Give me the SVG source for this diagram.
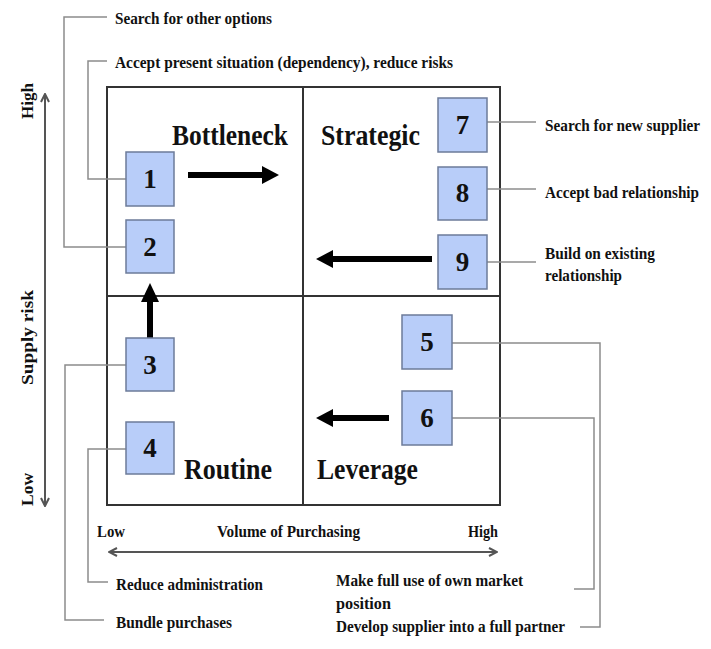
<svg xmlns="http://www.w3.org/2000/svg" width="711" height="649" viewBox="0 0 711 649">
<style>
text{font-family:"Liberation Serif","Times New Roman",serif;font-weight:bold;fill:#111}
.lbl{font-size:16px}
.quad{font-size:30px}
.num{font-size:27px;text-anchor:middle}
.box{fill:#b8cdf9;stroke:#6c7b99;stroke-width:1.5}
.lead{fill:none;stroke:#8c8c8c;stroke-width:1.5}
.thick{fill:none;stroke:#000;stroke-width:6}
.axis{fill:none;stroke:#555;stroke-width:2}
.grid{fill:none;stroke:#333;stroke-width:2}
</style>
<defs>
<marker id="ah" viewBox="0 0 10 10" refX="9" refY="5" markerWidth="10" markerHeight="10" markerUnits="userSpaceOnUse" orient="auto-start-reverse">
<path d="M1,1 L9,5 L1,9" fill="none" stroke="#555" stroke-width="2"/>
</marker>
</defs>
<rect width="711" height="649" fill="#fff"/>
<g id="matrix">
<rect x="107" y="87" width="393" height="418" class="grid"/>
<line x1="303" y1="87" x2="303" y2="505" class="grid"/>
<line x1="107" y1="296" x2="500" y2="296" class="grid"/>
<text class="quad" x="172" y="145" textLength="116" lengthAdjust="spacingAndGlyphs">Bottleneck</text>
<text class="quad" x="321" y="145" textLength="99" lengthAdjust="spacingAndGlyphs">Strategic</text>
<text class="quad" x="184" y="479" textLength="88" lengthAdjust="spacingAndGlyphs">Routine</text>
<text class="quad" x="317" y="479" textLength="101" lengthAdjust="spacingAndGlyphs">Leverage</text>
</g>
<g id="axes">
<line x1="45" y1="94" x2="45" y2="506" class="axis" marker-start="url(#ah)" marker-end="url(#ah)"/>
<line x1="109" y1="552" x2="497" y2="552" class="axis" marker-start="url(#ah)" marker-end="url(#ah)"/>
<text class="lbl" transform="translate(33,119) rotate(-90)" textLength="36" lengthAdjust="spacingAndGlyphs">High</text>
<text class="lbl" transform="translate(33,385) rotate(-90)" textLength="95" lengthAdjust="spacingAndGlyphs">Supply risk</text>
<text class="lbl" transform="translate(33,506) rotate(-90)" textLength="33" lengthAdjust="spacingAndGlyphs">Low</text>
<text class="lbl" x="97" y="537" textLength="28" lengthAdjust="spacingAndGlyphs">Low</text>
<text class="lbl" x="217" y="537" textLength="143" lengthAdjust="spacingAndGlyphs">Volume of Purchasing</text>
<text class="lbl" x="468" y="537" textLength="30" lengthAdjust="spacingAndGlyphs">High</text>
</g>
<g id="connectors">
<path class="lead" d="M126,179 H88 V61 H107"/>
<path class="lead" d="M126,247 H64 V17 H107"/>
<path class="lead" d="M126,365 H65 V620 H104"/>
<path class="lead" d="M126,449 H88 V582 H108"/>
<path class="lead" d="M487,122 H536"/>
<path class="lead" d="M487,189 H536"/>
<path class="lead" d="M487,262 H536"/>
<path class="lead" d="M452,343 H600 V627 H580"/>
<path class="lead" d="M452,418 H594 V589 H574"/>
<path class="thick" d="M188,175 H264"/>
<path d="M262,166 L279,175 L262,184 Z" fill="#000"/>
<path class="thick" d="M150,338 V300"/>
<path d="M141,302 L150,283 L159,302 Z" fill="#000"/>
<path class="thick" d="M432,259 H330"/>
<path d="M333,250 L316,259 L333,268 Z" fill="#000"/>
<path class="thick" d="M389,418 H330"/>
<path d="M333,409 L316,418 L333,427 Z" fill="#000"/>
</g>
<g id="n1"><rect class="box" x="126" y="152" width="48" height="54"/><text class="num" x="150" y="188">1</text></g>
<g id="n2"><rect class="box" x="126" y="220" width="48" height="53"/><text class="num" x="150" y="256">2</text></g>
<g id="n3"><rect class="box" x="126" y="338" width="48" height="53"/><text class="num" x="150" y="374">3</text></g>
<g id="n4"><rect class="box" x="126" y="422" width="48" height="52"/><text class="num" x="150" y="457">4</text></g>
<g id="n5"><rect class="box" x="402" y="315" width="50" height="54"/><text class="num" x="427" y="351">5</text></g>
<g id="n6"><rect class="box" x="402" y="391" width="50" height="54"/><text class="num" x="427" y="427">6</text></g>
<g id="n7"><rect class="box" x="438" y="98" width="49" height="54"/><text class="num" x="462.5" y="134">7</text></g>
<g id="n8"><rect class="box" x="438" y="167" width="49" height="53"/><text class="num" x="462.5" y="202">8</text></g>
<g id="n9"><rect class="box" x="438" y="235" width="49" height="54"/><text class="num" x="462.5" y="271">9</text></g>
<g id="labels">
<text class="lbl" x="115" y="24" textLength="157" lengthAdjust="spacingAndGlyphs">Search for other options</text>
<text class="lbl" x="115" y="68" textLength="338" lengthAdjust="spacingAndGlyphs">Accept present situation (dependency), reduce risks</text>
<text class="lbl" x="545" y="131" textLength="155" lengthAdjust="spacingAndGlyphs">Search for new supplier</text>
<text class="lbl" x="545" y="198" textLength="154" lengthAdjust="spacingAndGlyphs">Accept bad relationship</text>
<text class="lbl" x="545" y="259" textLength="110" lengthAdjust="spacingAndGlyphs">Build on existing</text>
<text class="lbl" x="545" y="281" textLength="77" lengthAdjust="spacingAndGlyphs">relationship</text>
<text class="lbl" x="116" y="590" textLength="147" lengthAdjust="spacingAndGlyphs">Reduce administration</text>
<text class="lbl" x="116" y="628" textLength="116" lengthAdjust="spacingAndGlyphs">Bundle purchases</text>
<text class="lbl" x="336" y="586" textLength="187" lengthAdjust="spacingAndGlyphs">Make full use of own market</text>
<text class="lbl" x="336" y="609" textLength="55" lengthAdjust="spacingAndGlyphs">position</text>
<text class="lbl" x="336" y="632" textLength="229" lengthAdjust="spacingAndGlyphs">Develop supplier into a full partner</text>
</g>
</svg>
